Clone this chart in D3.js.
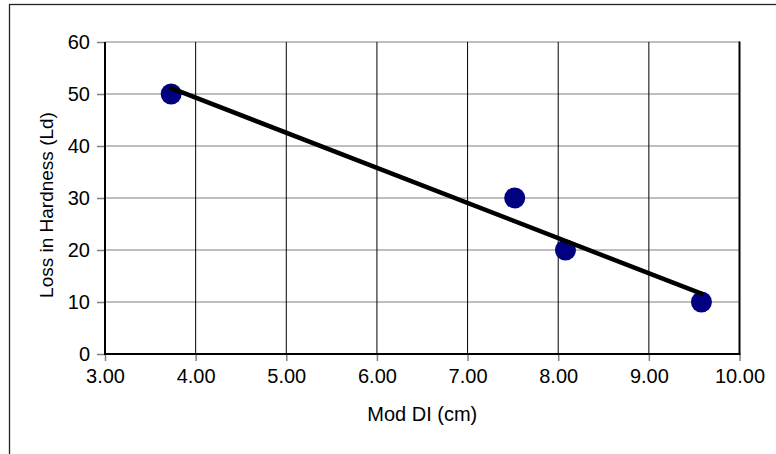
<!DOCTYPE html>
<html><head><meta charset="utf-8">
<script src="https://cdn.jsdelivr.net/npm/d3@7"></script>
<style>
html,body{margin:0;padding:0;background:#fff;}
svg{display:block;font-family:"Liberation Sans",Arial,sans-serif;}
</style></head>
<body>
<svg id="c" width="776" height="454"></svg>
<script>
const modDI = [3.73, 7.52, 8.08, 9.58];
const lossHardness = [50, 30, 20, 10];
const xTicks = [3, 4, 5, 6, 7, 8, 9, 10];
const yTicks = [0, 10, 20, 30, 40, 50, 60];
const xTitle = "Mod DI (cm)";
const yTitle = "Loss in Hardness (Ld)";

const svg = d3.select("#c");
const L = 105, R = 739.5, T = 42, B = 354;
const x = d3.scaleLinear().domain([3, 10]).range([L, R]);
const y = d3.scaleLinear().domain([0, 60]).range([B, T]);

// outer frame
svg.append("rect").attr("x", 9.5).attr("y", 4.5).attr("width", 800).attr("height", 500)
  .attr("fill", "none").attr("stroke", "#222").attr("stroke-width", 1.3);

// horizontal gridlines (gray)
svg.append("g").selectAll("line").data(yTicks.filter(d => d > 0)).join("line")
  .attr("x1", L).attr("x2", R).attr("y1", d => y(d)).attr("y2", d => y(d))
  .attr("stroke", "#808080").attr("stroke-width", 1.2);
// vertical gridlines (black)
svg.append("g").selectAll("line").data(xTicks.filter(d => d > 3 && d < 10)).join("line")
  .attr("x1", d => x(d)).attr("x2", d => x(d)).attr("y1", T).attr("y2", B)
  .attr("stroke", "#000").attr("stroke-width", 1);

// right border
svg.append("line").attr("x1", R).attr("x2", R).attr("y1", T - 0.6).attr("y2", B)
  .attr("stroke", "#000").attr("stroke-width", 2);

// axes
const yAxis = d3.axisLeft(y).tickValues(yTicks).tickSize(8).tickPadding(7).tickFormat(d3.format("d"));
const gy = svg.append("g").attr("transform", `translate(${L},0)`).call(yAxis);
gy.select(".domain").remove();
gy.selectAll(".tick line").attr("stroke", "#808080").attr("stroke-width", 1.5);
gy.selectAll("text").attr("font-size", 20).attr("fill", "#000")
  .attr("font-family", "Liberation Sans, Arial, sans-serif");

const xAxis = d3.axisBottom(x).tickValues(xTicks).tickSize(7).tickPadding(8).tickFormat(d3.format(".2f"));
const gx = svg.append("g").attr("transform", `translate(0,${B})`).call(xAxis);
gx.select(".domain").remove();
gx.selectAll(".tick line").attr("stroke", "#808080").attr("stroke-width", 1.5);
gx.selectAll("text").attr("font-size", 20).attr("fill", "#000")
  .attr("font-family", "Liberation Sans, Arial, sans-serif");

// axis lines
svg.append("line").attr("x1", L).attr("x2", L).attr("y1", T).attr("y2", B + 1)
  .attr("stroke", "#000").attr("stroke-width", 2);
svg.append("line").attr("x1", L - 1).attr("x2", R + 1).attr("y1", B).attr("y2", B)
  .attr("stroke", "#000").attr("stroke-width", 2);

// linear trendline computed from the data
const mx = d3.mean(modDI), my = d3.mean(lossHardness);
let sxy = 0, sxx = 0;
modDI.forEach((v, i) => { sxy += (v - mx) * (lossHardness[i] - my); sxx += (v - mx) * (v - mx); });
const slope = sxy / sxx, icpt = my - slope * mx;
const x0 = d3.min(modDI), x1 = d3.max(modDI);

const pts = modDI.map((v, i) => ({x: v, y: lossHardness[i]}));
svg.append("g").selectAll("circle").data(pts).join("circle")
  .attr("cx", d => x(d.x)).attr("cy", d => y(d.y)).attr("r", 10.5).attr("fill", "#000080");

svg.append("line").attr("x1", x(x0)).attr("y1", y(slope * x0 + icpt))
  .attr("x2", x(x1)).attr("y2", y(slope * x1 + icpt))
  .attr("stroke", "#000").attr("stroke-width", 4.5).attr("stroke-linecap", "round");

// titles
svg.append("text").attr("x", (L + R) / 2).attr("y", 421).attr("text-anchor", "middle")
  .attr("font-size", 20).text(xTitle);
svg.append("text").attr("transform", `translate(53,${(T + B) / 2 + 7}) rotate(-90)`)
  .attr("text-anchor", "middle").attr("font-size", 19).text(yTitle);
</script>
</body></html>
